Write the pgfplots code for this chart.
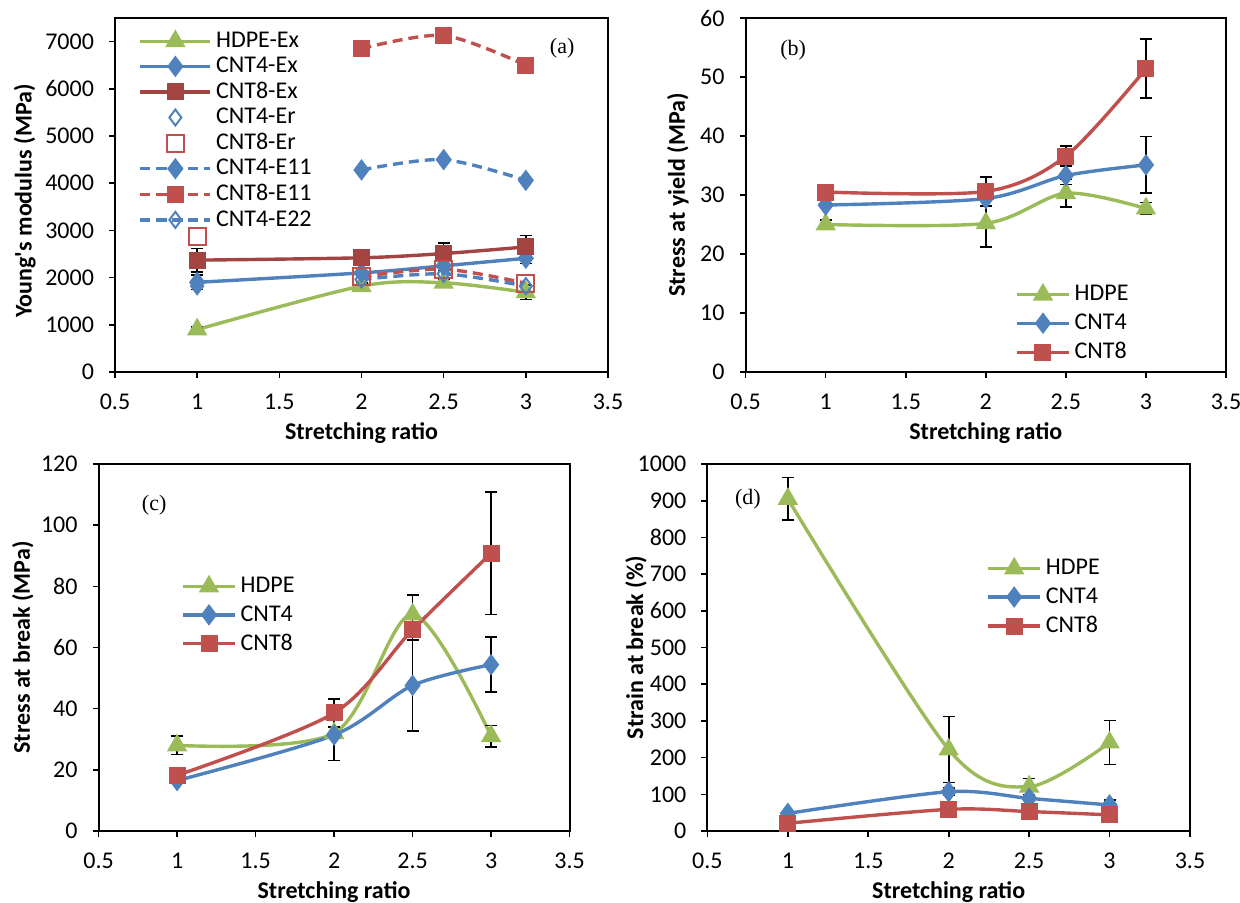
\documentclass[border=0pt]{standalone}
\usepackage{fontspec}
\setmainfont{Carlito}
\newfontfamily\tnr{Liberation Serif}
\usepackage{pgfplots}
\pgfplotsset{compat=1.18}

\definecolor{xgreen}{HTML}{9BBB59}
\definecolor{xblue}{HTML}{4F81BD}
\definecolor{xred}{HTML}{C0504D}

\pgfplotsset{
  excel/.style={
    scale only axis,
    axis line style={line width=1pt},
    xmin=0.5, xmax=3.5, xtick={0.5,1,...,3.5},
    ymin=0,
    tick align=outside, xtick pos=bottom, ytick pos=left,
    major tick length=3pt,
    every tick/.style={line width=0.8pt,black},
    tick label style={font=\fontsize{12}{14}\selectfont},
    xticklabel style={yshift=-4.5pt},
    yticklabel style={xshift=-4pt},
    /pgf/number format/assume math mode=true,
    /pgf/number format/1000 sep={},
    label style={font=\bfseries\fontsize{12}{14}\selectfont},
    xlabel={Stretching ratio},
    legend style={draw=none, fill=none, font=\fontsize{12}{14}\selectfont, anchor=north west},
    legend cell align=left,
    every axis plot/.append style={line width=1.7pt, smooth, tension=0.5},
    error bars/error bar style={black, line width=0.8pt, solid},
    error bars/error mark options={rotate=90, mark size=3pt, black, line width=0.8pt},
  },
  hdpe/.style={xgreen, mark=triangle*, mark size=4.2pt, mark options={solid, fill=xgreen}},
  cnt4/.style={xblue, mark=diamond*, mark size=4pt, mark options={solid, fill=xblue}},
  cnt8/.style={xred, mark=square*, mark size=3.4pt, mark options={solid, fill=xred}},
  shortleg/.style={legend image code/.code={\draw[mark repeat=2,mark phase=2,##1] plot coordinates {(0pt,0pt) (13pt,0pt) (26pt,0pt)};}},
}

\begin{document}
\begin{tikzpicture}
\useasboundingbox (0,0) rectangle (620pt,451pt);

% (a)
\begin{axis}[excel, at={(57.5pt,265pt)}, anchor=south west,
  width=246.5pt, height=177pt,
  ymax=7500, ytick={0,1000,...,7000},
  ylabel={Young\textquotesingle s modulus (MPa)},
  ylabel style={at={(axis description cs:-0.183,0.483)}, anchor=center},
  xlabel style={at={(axis description cs:0.5,-0.172)}, anchor=center},
  legend style={at={(axis description cs:0.035,0.984)}, row sep=-0.7pt},
  legend image code/.code={\draw[mark repeat=2,mark phase=2,#1] plot coordinates {(0pt,0pt) (17.5pt,0pt) (35pt,0pt)};},
]
\addplot[hdpe, error bars/.cd, y dir=both, y explicit] coordinates {
  (1,900) +- (0,50) (2,1820) +- (0,70) (2.5,1890) +- (0,70) (3,1690) +- (0,150)};
\addlegendentry{HDPE-Ex}
\addplot[cnt4, error bars/.cd, y dir=both, y explicit] coordinates {
  (1,1900) +- (0,150) (2,2100) +- (0,100) (2.5,2250) +- (0,100) (3,2410) +- (0,110)};
\addlegendentry{CNT4-Ex}
\addplot[cnt8, xred!85!black, mark options={fill=xred!85!black}, error bars/.cd, y dir=both, y explicit] coordinates {
  (1,2370) +- (0,250) (2,2420) +- (0,140) (2.5,2510) +- (0,220) (3,2650) +- (0,240)};
\addlegendentry{CNT8-Ex}
\addplot[only marks, xblue, mark=diamond, mark size=4pt, mark options={line width=1pt}] coordinates {(1,1820)};
\addlegendentry{CNT4-Er}
\addplot[only marks, xred, mark=square, mark size=4.2pt, mark options={line width=1pt}] coordinates {(1,2870)};
\addlegendentry{CNT8-Er}
\addplot[cnt4, dash pattern=on 5pt off 3pt] coordinates {(2,4280) (2.5,4500) (3,4060)};
\addlegendentry{CNT4-E11}
\addplot[cnt8, dash pattern=on 5pt off 3pt] coordinates {(2,6850) (2.5,7130) (3,6500)};
\addlegendentry{CNT8-E11}
\addplot[xred, mark=square, mark size=4.2pt, mark options={solid, line width=1pt, fill=white}, dash pattern=on 5pt off 3pt, forget plot] coordinates {(2,2020) (2.5,2180) (3,1880)};
\addplot[xblue, mark=diamond, mark size=4pt, mark options={solid, line width=1pt, fill=white}, dash pattern=on 5pt off 3pt] coordinates {(2,1960) (2.5,2080) (3,1820)};
\addlegendentry{CNT4-E22}
\node[font=\tnr\fontsize{11}{13}\selectfont] at (axis description cs:0.907,0.915) {(a)};
\end{axis}

% (b)
\begin{axis}[excel, shortleg, at={(372.8pt,265pt)}, anchor=south west,
  width=240.2pt, height=177pt,
  ymax=60, ytick={0,10,...,60},
  ylabel={Stress at yield (MPa)},
  ylabel style={at={(axis description cs:-0.141,0.5)}, anchor=center},
  xlabel style={at={(axis description cs:0.5,-0.172)}, anchor=center},
  legend style={at={(axis description cs:0.548,0.268)}, row sep=1pt},
]
\addplot[hdpe, error bars/.cd, y dir=both, y explicit] coordinates {
  (1,25) +- (0,0.8) (2,25.2) +- (0,4) (2.5,30.3) +- (0,2.3) (3,27.7) +- (0,1)};
\addlegendentry{HDPE}
\addplot[cnt4, error bars/.cd, y dir=both, y explicit] coordinates {
  (1,28.3) +- (0,0) (2,29.4) +- (0,1.2) (2.5,33.3) +- (0,1.5) (3,35.1) +- (0,4.8)};
\addlegendentry{CNT4}
\addplot[cnt8, error bars/.cd, y dir=both, y explicit] coordinates {
  (1,30.5) +- (0,0) (2,30.6) +- (0,2.5) (2.5,36.6) +- (0,1.7) (3,51.4) +- (0,5)};
\addlegendentry{CNT8}
\node[font=\tnr\fontsize{11}{13}\selectfont] at (axis description cs:0.099,0.91) {(b)};
\end{axis}

% (c)
\begin{axis}[excel, shortleg, at={(49.3pt,35.5pt)}, anchor=south west,
  width=235.5pt, height=183.5pt,
  ymax=120, ytick={0,20,...,120},
  ylabel={Stress at break (MPa)},
  ylabel style={at={(axis description cs:-0.161,0.5)}, anchor=center},
  xlabel style={at={(axis description cs:0.5,-0.166)}, anchor=center},
  legend style={at={(axis description cs:0.162,0.714)}, row sep=0.9pt},
]
\addplot[hdpe, error bars/.cd, y dir=both, y explicit] coordinates {
  (1,28) +- (0,3) (2,32) +- (0,0) (2.5,70.8) +- (0,6.4) (3,31) +- (0,3.5)};
\addlegendentry{HDPE}
\addplot[cnt4, error bars/.cd, y dir=both, y explicit] coordinates {
  (1,16.5) +- (0,0) (2,31.4) +- (0,8.4) (2.5,47.6) +- (0,14.8) (3,54.4) +- (0,9)};
\addlegendentry{CNT4}
\addplot[cnt8, error bars/.cd, y dir=both, y explicit] coordinates {
  (1,18.2) +- (0,0) (2,38.6) +- (0,4.5) (2.5,65.8) +- (0,3.5) (3,90.8) +- (0,20)};
\addlegendentry{CNT8}
\node[font=\tnr\fontsize{11}{13}\selectfont] at (axis description cs:0.118,0.888) {(c)};
\end{axis}

% (d)
\begin{axis}[excel, shortleg, at={(353.7pt,35.5pt)}, anchor=south west,
  width=241.3pt, height=183.5pt,
  ymax=1000, ytick={0,100,...,1000},
  ylabel={Strain at break (\%)},
  ylabel style={at={(axis description cs:-0.148,0.5)}, anchor=center},
  xlabel style={at={(axis description cs:0.5,-0.166)}, anchor=center},
  legend style={at={(axis description cs:0.565,0.763)}, row sep=1pt},
]
\addplot[hdpe, error bars/.cd, y dir=both, y explicit] coordinates {
  (1,905) +- (0,58) (2,222) +- (0,90) (2.5,121) +- (0,22) (3,241) +- (0,60)};
\addlegendentry{HDPE}
\addplot[cnt4, error bars/.cd, y dir=both, y explicit] coordinates {
  (1,48) +- (0,0) (2,107) +- (0,10) (2.5,89) +- (0,0) (3,71) +- (0,14)};
\addlegendentry{CNT4}
\addplot[cnt8, error bars/.cd, y dir=both, y explicit] coordinates {
  (1,21) +- (0,0) (2,59) +- (0,0) (2.5,53) +- (0,0) (3,44) +- (0,0)};
\addlegendentry{CNT8}
\node[font=\tnr\fontsize{11}{13}\selectfont] at (axis description cs:0.084,0.905) {(d)};
\end{axis}
\end{tikzpicture}
\end{document}
